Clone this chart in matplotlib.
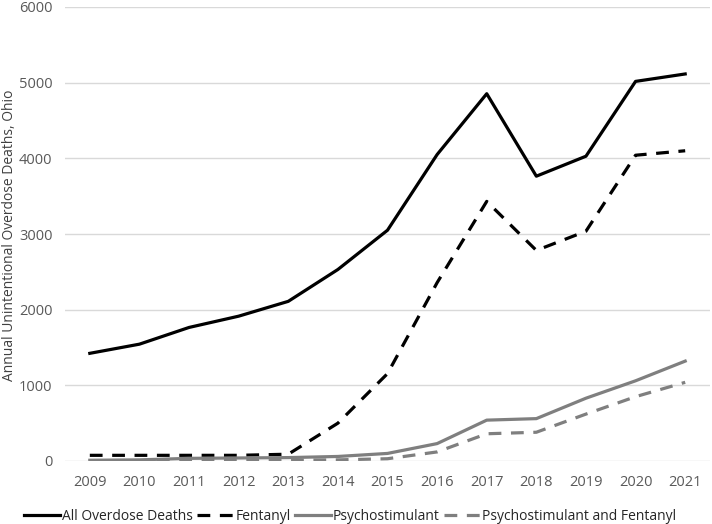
import matplotlib.pyplot as plt

plt.rcParams['font.family'] = ['Open Sans', 'DejaVu Sans']

years = list(range(2009, 2022))
all_deaths = [1423, 1544, 1765, 1914, 2110, 2531, 3050, 4050, 4854, 3764, 4028, 5017, 5115]
fentanyl = [75, 75, 75, 75, 90, 500, 1155, 2357, 3431, 2783, 3037, 4041, 4100]
psycho = [10, 15, 35, 40, 45, 60, 100, 230, 540, 560, 830, 1060, 1320]
psycho_fent = [0, 2, 5, 8, 10, 15, 30, 120, 360, 380, 620, 850, 1040]

fig = plt.figure(figsize=(7.12, 5.24), dpi=100)
ax = fig.add_axes([65 / 712, 63 / 524, 645 / 712, 454 / 524])

lw = 2.3
ax.plot(years, all_deaths, c='black', linewidth=lw, label='All Overdose Deaths')
ax.plot(years, fentanyl, c='black', linewidth=lw, dashes=(4, 3), label='Fentanyl')
ax.plot(years, psycho, c='#7f7f7f', linewidth=lw, label='Psychostimulant')
ax.plot(years, psycho_fent, c='#7f7f7f', linewidth=lw, dashes=(4, 3),
        label='Psychostimulant and Fentanyl')

ax.set_xlim(2008.5, 2021.5)
ax.set_ylim(0, 6000)
ax.set_xticks(years)
ax.set_yticks(range(0, 6001, 1000))
ax.grid(axis='y', color='#d9d9d9', linewidth=1)
ax.set_axisbelow(True)
for s in ax.spines.values():
    s.set_visible(False)
ax.tick_params(length=0, labelsize=10.5, colors='#595959')
ax.tick_params(axis='y', pad=9)
ax.tick_params(axis='x', pad=10)

fig.text(10 / 712, (524 - 235) / 524, 'Annual Unintentional Overdose Deaths, Ohio', rotation=90,
         ha='center', va='center', fontsize=10, color='#404040')

fig.legend(loc='center left', bbox_to_anchor=(24 / 712, 8 / 524), ncol=4, frameon=False, fontsize=10,
           handlelength=2.6, handletextpad=0.15, columnspacing=0.3, labelcolor='#262626',
           borderpad=0, borderaxespad=0)

fig.savefig('out.png', dpi=100)
